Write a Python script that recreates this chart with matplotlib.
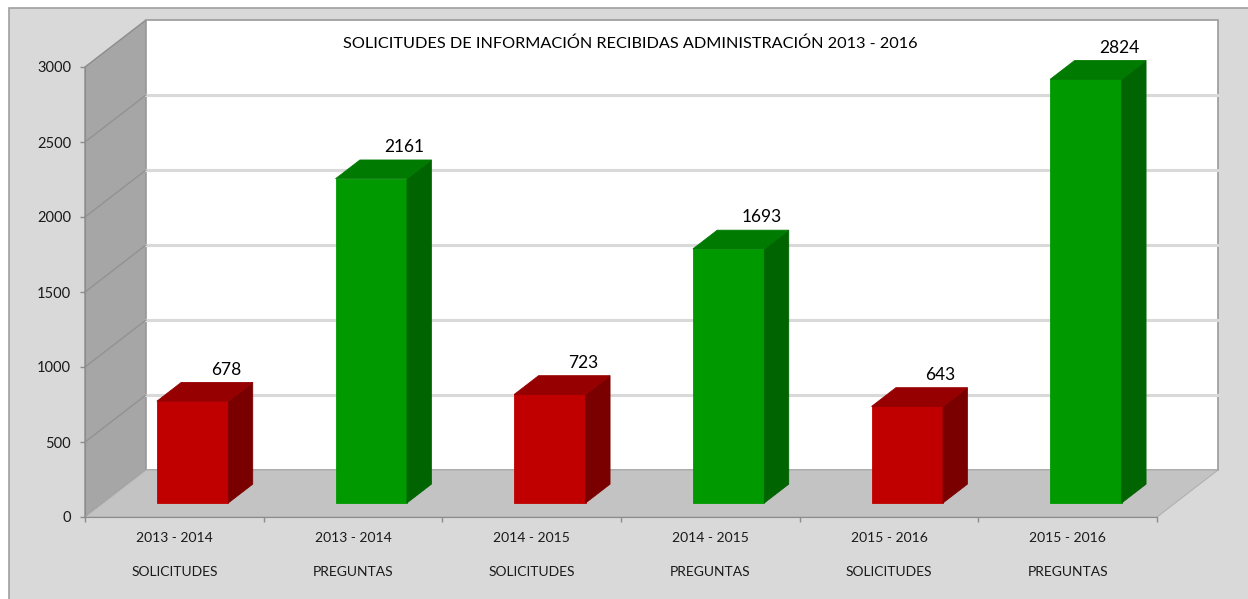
import matplotlib
matplotlib.use("Agg")
import matplotlib.pyplot as plt
from matplotlib.patches import Polygon, Rectangle

plt.rcParams['font.family'] = ['Lato', 'DejaVu Sans']

# data
periods = ["2013 - 2014", "2013 - 2014", "2014 - 2015", "2014 - 2015", "2015 - 2016", "2015 - 2016"]
kinds = ["SOLICITUDES", "PREGUNTAS", "SOLICITUDES", "PREGUNTAS", "SOLICITUDES", "PREGUNTAS"]
values = [678, 2161, 723, 1693, 643, 2824]
yticks = [0, 500, 1000, 1500, 2000, 2500, 3000]
title = "SOLICITUDES DE INFORMACIÓN RECIBIDAS ADMINISTRACIÓN 2013 - 2016"

# colours (front, side, top)
red = ("#c00000", "#7a0000", "#960000")
green = ("#009900", "#006400", "#007a00")

W, H = 1248, 599
fig = plt.figure(figsize=(W / 100, H / 100), dpi=100)
fig.patch.set_facecolor("white")
fig.patches.append(Rectangle((9 / W, -0.01), 1.0, 1 - 8 / H + 0.01, transform=fig.transFigure,
                             facecolor="#d9d9d9", edgecolor="#a0a0a0", lw=1.2, zorder=0))

ax = fig.add_axes([85 / W, 82 / H, 1072 / W, 450 / H])
ax.set_zorder(2)
ax.set_facecolor("none")
n = len(values)
ymax = yticks[-1]
ax.set_xlim(0, n)
ax.set_ylim(0, ymax)

# oblique depth offset (category units, value units)
DX, DY = 0.341, 313.0

# side wall, back wall, floor
ax.add_patch(Polygon([(0, 0), (0, ymax), (DX, ymax + DY), (DX, DY)], closed=True,
                     facecolor="#a6a6a6", edgecolor="#8c8c8c", lw=1, clip_on=False, zorder=1))
ax.add_patch(Polygon([(DX, DY), (DX, ymax + DY), (n + DX, ymax + DY), (n + DX, DY)], closed=True,
                     facecolor="white", edgecolor="#9a9a9a", lw=1.2, clip_on=False, zorder=1))
ax.add_patch(Polygon([(0, 0), (n, 0), (n + DX, DY), (DX, DY)], closed=True,
                     facecolor="#c3c3c3", edgecolor="#b0b0b0", lw=0.8, clip_on=False, zorder=1))

for t in yticks[1:-1]:
    ax.plot([DX, n + DX], [t + DY, t + DY], color="#d9d9d9", lw=2.2, clip_on=False, zorder=2)
    ax.plot([0, DX], [t, t + DY], color="#929292", lw=1, clip_on=False, zorder=2)

# bars
bw = 0.4
d0, d1 = 0.3, 0.7
for i, v in enumerate(values):
    front, side, top = red if kinds[i] == "SOLICITUDES" else green
    x0 = i + 0.5 - bw / 2 + d0 * DX
    y0 = d0 * DY
    ddx, ddy = (d1 - d0) * DX, (d1 - d0) * DY
    ax.add_patch(Rectangle((x0, y0), bw, v, facecolor=front, edgecolor=front, lw=0.6,
                           clip_on=False, zorder=3))
    ax.add_patch(Polygon([(x0 + bw, y0), (x0 + bw + ddx, y0 + ddy), (x0 + bw + ddx, y0 + ddy + v),
                          (x0 + bw, y0 + v)], closed=True, facecolor=side, edgecolor=side, lw=0.6,
                         clip_on=False, zorder=3))
    ax.add_patch(Polygon([(x0, y0 + v), (x0 + bw, y0 + v), (x0 + bw + ddx, y0 + v + ddy),
                          (x0 + ddx, y0 + v + ddy)], closed=True, facecolor=top, edgecolor=top, lw=0.6,
                         clip_on=False, zorder=3))
    ax.text(i + 0.5 + d1 * DX + 0.05, y0 + v + ddy + 85, str(v), ha="center", va="center",
            fontsize=12.5, color="black", zorder=4, clip_on=False)

# axes styling
for s in ["top", "right"]:
    ax.spines[s].set_visible(False)
for s in ["left", "bottom"]:
    ax.spines[s].set_color("#8c8c8c")
    ax.spines[s].set_zorder(2)
ax.set_yticks(yticks)
ax.set_yticklabels([str(t) for t in yticks])
ax.tick_params(axis="y", length=3.6, width=1, color="#8c8c8c", pad=6.5, labelsize=10.5, labelcolor="#1a1a1a")
ax.set_xticks(range(n + 1))
ax.set_xticklabels([])
ax.tick_params(axis="x", which="major", length=3.6, width=1, color="#8c8c8c")
ax.set_xticks([i + 0.5 for i in range(n)], minor=True)
ax.set_xticklabels([f"{p}\n{k}" for p, k in zip(periods, kinds)], minor=True)
ax.tick_params(axis="x", which="minor", length=0, pad=11, labelsize=10, labelcolor="#1a1a1a")
for lbl in ax.get_xticklabels(minor=True):
    lbl.set_linespacing(3.2)

fig.text(630 / W, 1 - 44 / H, title, ha="center", va="center", fontsize=11.7, color="black")

fig.savefig("out.png", dpi=100)
